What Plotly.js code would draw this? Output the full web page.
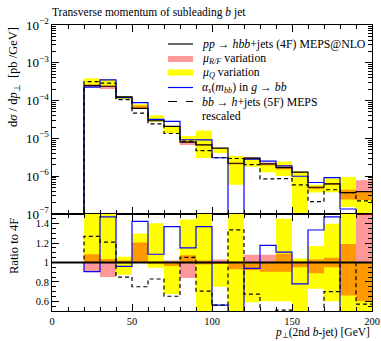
<!DOCTYPE html>
<html>
<head>
<meta charset="utf-8">
<script src="https://cdn.plot.ly/plotly-3.0.1.min.js"></script>
<style>html,body{margin:0;padding:0;background:#fff;}#chart{width:381px;height:341px;}</style>
</head>
<body>
<div id="chart"></div>
<script>
// bin edges in GeV (10 GeV bins from 20 to 200)
const binEdges = [20,30,40,50,60,70,80,90,100,110,120,130,140,150,160,170,180,190,200];
// 4F MEPS@NLO central prediction [pb/GeV]
const central4F = [2.5e-4,2.4e-4,1.25e-4,6.2e-5,2.93e-5,2.07e-5,8.0e-6,6.7e-6,5.5e-6,2.2e-6,3.0e-6,2.12e-6,1.69e-6,1.28e-6,5.1e-7,6.25e-7,3.67e-7,3.9e-7];
// ratios to 4F
const ratioAlphaS = [0.905,1.47,0.96,1.425,1.085,1.37,1.15,1.37,0.56,0,0.94,1.177,1.106,0.78,1.335,1.47,0.37,0];
const ratio5F = [1.27,1.21,0.85,0.75,0.83,0.652,1.053,0.705,0.56,1.337,0.674,0.40,0.51,0.46,0.415,0.70,1.0,0.57];
const muRFLow  = [0.91,0.85,0.99,0.995,0.99,0.965,0.84,0.98,0.985,0.93,0.92,0.905,0.905,0.95,0.89,0.95,0.66,0.60];
const muRFHigh = [1.085,1.035,1.02,1.205,1.01,1.02,1.075,1.02,1.03,1.01,1.08,1.08,1.09,1.01,1.03,1.05,1.19,2.0];
const muQLow   = [1.0,1.0,0.875,0.995,0.945,0.675,1.0,0.45,0.75,0.27,0.59,0.60,0.6,0.05,0.73,0.6,0.42,0.05];
const muQHigh  = [1.55,1.55,1.06,1.30,1.405,1.0,1.443,2.4,1.0,1.55,1.0,1.0,1.45,1.04,1.17,1.40,2.6,1.0];

const TINY = 1e-12;
const step = v => v.concat([v[v.length-1]]);
const mul = (a,b) => a.map((x,i)=>Math.max(x*b[i],TINY));
const lineX = [0].concat(binEdges);
const topLine = v => [TINY].concat(step(v));
const ratLine = v => [1].concat(step(v));

const YELLOW = 'rgb(255,255,0)';
const PINK = 'rgba(255,0,0,0.4)';
const traces = [];
function band(lo, hi, color, xa, ya){
  traces.push({x:binEdges, y:step(lo), xaxis:xa, yaxis:ya, mode:'lines', line:{shape:'hv', width:0, color:'rgba(0,0,0,0)'}, hoverinfo:'skip'});
  traces.push({x:binEdges, y:step(hi), xaxis:xa, yaxis:ya, mode:'lines', line:{shape:'hv', width:0, color:'rgba(0,0,0,0)'}, fill:'tonexty', fillcolor:color, hoverinfo:'skip'});
}
// top panel bands
band(mul(central4F,muQLow), mul(central4F,muQHigh), YELLOW, 'x', 'y');
band(mul(central4F,muRFLow), mul(central4F,muRFHigh), PINK, 'x', 'y');
// ratio bands
band(muQLow, muQHigh, YELLOW, 'x2', 'y2');
band(muRFLow, muRFHigh, PINK, 'x2', 'y2');

// top lines
traces.push({x:lineX, y:topLine(mul(central4F,ratioAlphaS)), xaxis:'x', yaxis:'y', mode:'lines', line:{shape:'hv', color:'#0000ff', width:1.2}});
traces.push({x:lineX, y:topLine(mul(central4F,ratio5F)), xaxis:'x', yaxis:'y', mode:'lines', line:{shape:'hv', color:'#000', width:1.2, dash:'4px,3px'}});
traces.push({x:lineX, y:topLine(central4F), xaxis:'x', yaxis:'y', mode:'lines', line:{shape:'hv', color:'#000', width:1.2}});
// ratio lines
traces.push({x:lineX, y:ratLine(ratioAlphaS), xaxis:'x2', yaxis:'y2', mode:'lines', line:{shape:'hv', color:'#0000ff', width:1.2}});
traces.push({x:lineX, y:ratLine(ratio5F), xaxis:'x2', yaxis:'y2', mode:'lines', line:{shape:'hv', color:'#000', width:1.2, dash:'4px,3px'}});
traces.push({x:[0,200], y:[1,1], xaxis:'x2', yaxis:'y2', mode:'lines', line:{color:'#000', width:1.8}});

const axCommon = {showline:true, linecolor:'#000', linewidth:1, mirror:'allticks', ticks:'inside', tickcolor:'#000', ticklen:7, tickwidth:1, showgrid:false, zeroline:false, fixedrange:true};
const split = 97/286;

// legend (drawn manually)
const lx0 = (168-52)/320, lx1 = (193-52)/320, tx = (200-52)/320;
const py = p => (311-p)/286;
const legRows = [
  {y:44, kind:'line', color:'#000', dash:'solid', text:'<i>pp</i> → <i>hbb</i>+jets (4F) MEPS@NLO'},
  {y:59, kind:'box', color:PINK, text:'<i>μ</i><sub><i>R/F</i></sub> variation'},
  {y:72.5, kind:'box', color:YELLOW, text:'<i>μ</i><sub><i>Q</i></sub> variation'},
  {y:87.5, kind:'line', color:'#0000ff', dash:'solid', text:'<i>α</i><sub><i>s</i></sub>(<i>m</i><sub><i>bb</i></sub>) in <i>g</i> → <i>bb</i>'},
  {y:101.5, kind:'line', color:'#000', dash:'dash', text:'<i>bb</i> → <i>h</i>+jets (5F) MEPS'},
  {y:115.5, kind:'none', text:'rescaled'}
];
const shapes = [], annotations = [];
legRows.forEach(r=>{
  if(r.kind==='line') shapes.push({type:'line', xref:'paper', yref:'paper', x0:lx0, x1:lx1, y0:py(r.y), y1:py(r.y), line:{color:r.color, width:1.2, dash:r.dash}});
  if(r.kind==='box') shapes.push({type:'rect', xref:'paper', yref:'paper', x0:lx0, x1:lx1, y0:py(r.y+3), y1:py(r.y-3), line:{width:0}, fillcolor:r.color});
  annotations.push({xref:'paper', yref:'paper', x:tx, y:py(r.y), xanchor:'left', yanchor:'middle', text:r.text, showarrow:false, font:{size:11.8}});
});
annotations.push({xref:'paper', yref:'paper', x:-38/320, y:1, xanchor:'center', yanchor:'top', textangle:-90, text:'d<i>σ</i> / d<i>p</i><sub>⊥</sub>  [pb /GeV]', showarrow:false, font:{size:12.5}});
annotations.push({xref:'paper', yref:'paper', x:-38/320, y:split-2/286, xanchor:'center', yanchor:'top', textangle:-90, text:'Ratio to 4F', showarrow:false, font:{size:12.5}});
annotations.push({xref:'paper', yref:'paper', x:1, y:-13/286, xanchor:'right', yanchor:'top', text:'<i>p</i><sub>⊥</sub>(2nd <i>b</i>-jet) [GeV]', showarrow:false, font:{size:11.5}});

const layout = {
  width:381, height:341,
  margin:{l:52, r:9, t:25, b:30, pad:0},
  paper_bgcolor:'#fff', plot_bgcolor:'#fff',
  showlegend:false, hovermode:false,
  font:{family:'Liberation Serif, serif', size:10.5, color:'#000'},
  title:{text:'Transverse momentum of subleading <i>b</i> jet', x:52/381, xanchor:'left', y:1-12/341, yanchor:'middle', font:{size:11.5}},
  xaxis:Object.assign({}, axCommon, {domain:[0,1], anchor:'y', range:[0,200], dtick:50, tick0:0, showticklabels:false, minor:{ticks:'inside', dtick:10, ticklen:4, tickcolor:'#000'}}),
  xaxis2:Object.assign({}, axCommon, {domain:[0,1], anchor:'y2', range:[0,200], dtick:50, tick0:0, matches:'x', minor:{ticks:'inside', dtick:10, ticklen:4, tickcolor:'#000'}}),
  yaxis:Object.assign({}, axCommon, {domain:[split,1], anchor:'x', type:'log', range:[-7,-2], dtick:1, exponentformat:'power', minor:{ticks:'inside', dtick:'D1', ticklen:4, tickcolor:'#000'}}),
  yaxis2:Object.assign({}, axCommon, {domain:[0,split], anchor:'x2', range:[0.5,1.5], tickvals:[0.6,0.8,1,1.2,1.4], ticktext:['0.6','0.8','1','1.2','1.4'], minor:{ticks:'inside', dtick:0.05, ticklen:4, tickcolor:'#000'}}),
  shapes:shapes, annotations:annotations
};
Plotly.newPlot('chart', traces, layout, {staticPlot:true, displayModeBar:false});
</script>
</body>
</html>
